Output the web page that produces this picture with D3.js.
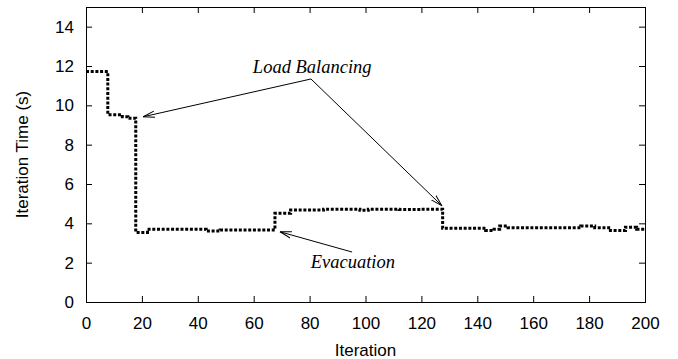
<!DOCTYPE html>
<html>
<head>
<meta charset="utf-8">
<script src="https://cdn.jsdelivr.net/npm/d3@7"></script>
<style>
  body { margin: 0; background: #fff; }
  svg text { fill: #000; }
  .note { font-family: "Liberation Serif", "DejaVu Serif", serif; font-style: italic; font-size: 18.5px; }
</style>
</head>
<body>
<div id="chart"></div>
<script>
// step change points: iteration where a new level starts, and the level (s)
const stepIters = [0, 7.8, 13, 15, 17.8, 22, 43, 48, 67.6, 73.2, 85, 98, 101, 112, 120, 127.6, 143, 146, 148, 151, 177, 182, 187, 193, 197, 200];
const stepTimes = [11.72, 9.52, 9.42, 9.34, 3.54, 3.70, 3.61, 3.66, 4.51, 4.68, 4.72, 4.66, 4.72, 4.70, 4.72, 3.75, 3.63, 3.70, 3.86, 3.78, 3.86, 3.78, 3.63, 3.80, 3.70, 3.70];

const xTicks = [0, 20, 40, 60, 80, 100, 120, 140, 160, 180, 200];
const yTicks = [0, 2, 4, 6, 8, 10, 12, 14];

// annotations in data coordinates
const lbLabel = { text: "Load Balancing", x: 59.7, y: 11.64 };
const lbApex = [80.5, 11.34];
const lbTargets = [[20.5, 9.42], [127.3, 4.9]];
const evLabel = { text: "Evacuation", x: 80.4, y: 1.73 };
const evArrow = [[95.2, 2.54], [69.4, 3.57]];

const W = 678, H = 359;
const margin = { top: 7, right: 33, bottom: 57, left: 86 };
const width = W - margin.left - margin.right;
const height = H - margin.top - margin.bottom;

const svg = d3.select("#chart").append("svg")
  .attr("width", W).attr("height", H);

const defs = svg.append("defs");
defs.append("marker")
  .attr("id", "head")
  .attr("viewBox", "0 0 12 8")
  .attr("markerWidth", 12).attr("markerHeight", 8)
  .attr("markerUnits", "userSpaceOnUse")
  .attr("refX", 11.5).attr("refY", 4)
  .attr("orient", "auto")
  .append("path")
  .attr("d", "M0,0.8 L11.5,4 L0,7.2")
  .attr("fill", "none").attr("stroke", "#000").attr("stroke-width", 1);

const g = svg.append("g")
  .attr("transform", `translate(${margin.left},${margin.top})`);

const x = d3.scaleLinear().domain([0, 200]).range([0, width]);
const y = d3.scaleLinear().domain([0, 15]).range([height, 0]);

const tickFont = "'Liberation Sans', Arial, sans-serif";

// axes with inward ticks, mirrored on top/right
g.append("g").attr("transform", `translate(0,${height})`)
  .call(d3.axisBottom(x).tickValues(xTicks).tickSizeInner(-6).tickSizeOuter(0).tickPadding(15))
  .call(a => a.select(".domain").remove())
  .call(a => a.selectAll("text").attr("font-size", 17).attr("font-family", tickFont));
g.append("g")
  .call(d3.axisTop(x).tickValues(xTicks.slice(1, -1)).tickSizeInner(-6).tickSizeOuter(0).tickFormat(""))
  .call(a => a.select(".domain").remove());
g.append("g")
  .call(d3.axisLeft(y).tickValues(yTicks).tickSizeInner(-6).tickSizeOuter(0).tickPadding(12))
  .call(a => a.select(".domain").remove())
  .call(a => a.selectAll("text").attr("font-size", 17).attr("font-family", tickFont));
g.append("g").attr("transform", `translate(${width},0)`)
  .call(d3.axisRight(y).tickValues(yTicks.slice(1)).tickSizeInner(-6).tickSizeOuter(0).tickFormat(""))
  .call(a => a.select(".domain").remove());

g.selectAll(".tick line").attr("stroke", "#000").attr("stroke-width", 1);

g.append("rect")
  .attr("x", 0.5).attr("y", 0.5)
  .attr("width", width).attr("height", height)
  .attr("fill", "none").attr("stroke", "#000").attr("stroke-width", 1);

// axis titles
svg.append("text")
  .attr("x", margin.left + x(100)).attr("y", 356)
  .attr("text-anchor", "middle")
  .attr("font-family", tickFont).attr("font-size", 17)
  .text("Iteration");
svg.append("text")
  .attr("transform", `translate(28,${margin.top + y(7.5)}) rotate(-90)`)
  .attr("text-anchor", "middle")
  .attr("font-family", tickFont).attr("font-size", 17)
  .text("Iteration Time (s)");

// series
const pts = stepIters.map((it, i) => [it, stepTimes[i]]);
const line = d3.line()
  .x(d => x(d[0])).y(d => y(d[1]))
  .curve(d3.curveStepAfter);
g.append("path")
  .datum(pts)
  .attr("d", line)
  .attr("fill", "none")
  .attr("stroke", "#000")
  .attr("stroke-width", 3)
  .attr("stroke-dasharray", "3,1.7");

// annotations
g.append("text")
  .attr("class", "note")
  .attr("x", x(lbLabel.x)).attr("y", y(lbLabel.y))
  .text(lbLabel.text);
lbTargets.forEach(t => {
  g.append("line")
    .attr("x1", x(lbApex[0])).attr("y1", y(lbApex[1]))
    .attr("x2", x(t[0])).attr("y2", y(t[1]))
    .attr("stroke", "#000").attr("stroke-width", 1)
    .attr("marker-end", "url(#head)");
});
g.append("text")
  .attr("class", "note")
  .attr("x", x(evLabel.x)).attr("y", y(evLabel.y))
  .text(evLabel.text);
g.append("line")
  .attr("x1", x(evArrow[0][0])).attr("y1", y(evArrow[0][1]))
  .attr("x2", x(evArrow[1][0])).attr("y2", y(evArrow[1][1]))
  .attr("stroke", "#000").attr("stroke-width", 1)
  .attr("marker-end", "url(#head)");
</script>
</body>
</html>
